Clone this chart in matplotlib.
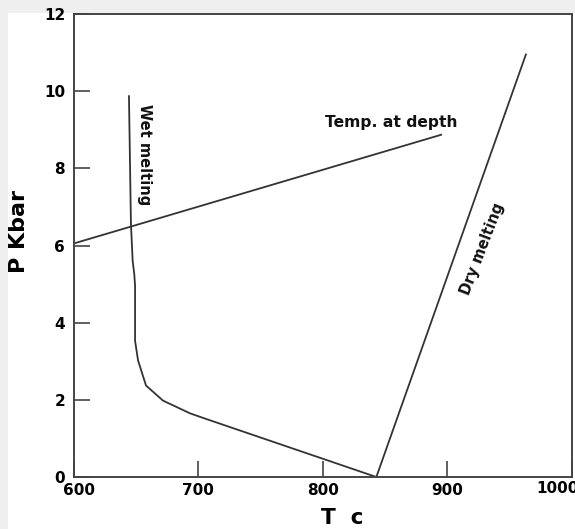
import matplotlib.pyplot as plt
import matplotlib.transforms as mtransforms
from matplotlib.patches import Rectangle

# Data (T in C, P in kbar)
wet_T = [644.5, 646.1, 647.5, 648.8, 649.4, 649.4, 651.8, 658.2, 671.8, 693.5, 705.0, 843.0]
wet_P = [9.87, 6.55, 5.59, 5.25, 4.95, 3.53, 3.02, 2.37, 1.98, 1.65, 1.52, 0.0]

dry_T = [843.0, 963.0]
dry_P = [0.0, 10.95]

depth_T = [600.0, 895.0]
depth_P = [6.05, 8.87]

xticks = [600, 700, 800, 900, 1000]
yticks = [0, 2, 4, 6, 8, 10, 12]

plt.rcParams['font.family'] = ['DejaVu Sans']
plt.rcParams['font.weight'] = 'bold'

fig = plt.figure(figsize=(5.75, 5.29), dpi=100, facecolor='#efefef')
# white card behind the plot
fig.patches.append(Rectangle((8 / 575, 0), 1, 1 - 13 / 529, transform=fig.transFigure,
                             facecolor='white', edgecolor='none', zorder=-10))

ax = fig.add_axes([73.5 / 575, 1 - 477 / 529, (572 - 73.5) / 575, (477 - 14) / 529])
ax.set_zorder(1)
ax.set_facecolor('white')

line_kw = dict(color='#333333', linewidth=1.3)
ax.plot(wet_T, wet_P, **line_kw)
ax.plot(dry_T, dry_P, **line_kw)
ax.plot(depth_T, depth_P, **line_kw)

ax.text(657, 8.35, 'Wet melting', rotation=-90, ha='center', va='center',
        fontsize=10.5, fontweight='bold', color='#111111')
ax.text(855, 9.2, 'Temp. at depth', ha='center', va='center',
        fontsize=11.2, fontweight='bold', color='#111111')
ax.text(928, 5.9, 'Dry melting', rotation=69, ha='center', va='center',
        fontsize=10.5, fontweight='bold', color='#111111')

ax.set_xlim(600, 1000)
ax.set_ylim(0, 12)
ax.set_xticks(xticks)
ax.set_yticks(yticks)
ax.tick_params(direction='in', length=11.5, width=1.2, color='#444444',
               labelsize=11)
ax.tick_params(axis='x', pad=4)
ax.tick_params(axis='y', pad=6)
for lab in ax.get_xticklabels() + ax.get_yticklabels():
    lab.set_fontweight('bold')

# corner labels sit a little inward, as in the original
xlabs = ax.get_xticklabels()
xlabs[0].set_transform(xlabs[0].get_transform() +
                       mtransforms.ScaledTranslation(5 / 100, 0, fig.dpi_scale_trans))
xlabs[-1].set_transform(xlabs[-1].get_transform() +
                        mtransforms.ScaledTranslation(-15 / 100, 2 / 100, fig.dpi_scale_trans))

for s in ax.spines.values():
    s.set_color('#444444')
    s.set_linewidth(1.4)

ax.set_xlabel('T  c', fontsize=15.5, fontweight='bold')
ax.set_ylabel('P Kbar', fontsize=16, fontweight='bold')
ax.xaxis.set_label_coords(0.539, -0.066)
ax.yaxis.set_label_coords(-0.09, 0.531)

fig.savefig('out.png', dpi=100, facecolor=fig.get_facecolor())
